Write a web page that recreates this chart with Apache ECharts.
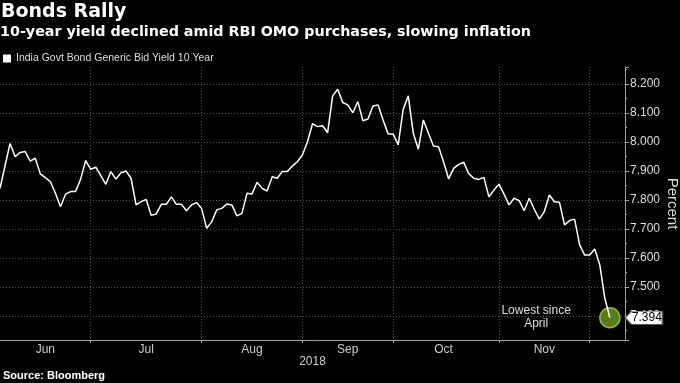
<!DOCTYPE html>
<html><head><meta charset="utf-8">
<script src="https://cdn.jsdelivr.net/npm/echarts@6/dist/echarts.min.js"></script>
<style>html,body{margin:0;padding:0;background:#000}#c{width:680px;height:383px}</style>
</head><body><div id="c"></div>
<script>
// ---- data ----
const titleText = 'Bonds Rally';
const subtitleText = '10-year yield declined amid RBI OMO purchases, slowing inflation';
const seriesName = 'India Govt Bond Generic Bid Yield 10 Year';
const sourceText = 'Source: Bloomberg';
const startDate = '2018-06-06';
const endDate = '2018-12-07';
const holidays = ['2018-08-15','2018-08-17','2018-08-22','2018-09-13','2018-09-20',
  '2018-10-02','2018-10-18','2018-11-07','2018-11-08','2018-11-20','2018-11-23'];
const yields = [
  7.840,7.918,7.995,7.949,7.964,7.967,7.934,7.944,7.890,7.877,
  7.863,7.823,7.777,7.820,7.829,7.829,7.872,7.936,7.906,7.913,
  7.884,7.854,7.898,7.872,7.894,7.900,7.875,7.783,7.794,7.802,
  7.747,7.752,7.785,7.785,7.811,7.785,7.785,7.763,7.783,7.791,
  7.771,7.702,7.725,7.766,7.771,7.786,7.783,7.745,7.754,7.823,
  7.821,7.861,7.840,7.831,7.880,7.875,7.898,7.898,7.917,7.932,
  7.955,8.001,8.063,8.053,8.056,8.032,8.159,8.182,8.136,8.128,
  8.101,8.139,8.073,8.079,8.124,8.128,8.076,8.028,8.027,7.990,
  8.113,8.159,8.030,7.975,8.076,8.030,7.986,7.984,7.932,7.873,
  7.909,7.923,7.930,7.891,7.875,7.871,7.878,7.811,7.834,7.855,
  7.820,7.783,7.806,7.798,7.763,7.806,7.768,7.734,7.760,7.817,
  7.794,7.792,7.714,7.729,7.734,7.645,7.610,7.610,7.631,7.576,
  7.461,7.394
];
const monthNames = ['Jun','Jul','Aug','Sep','Oct','Nov'];
const yearLabel = '2018';
const noteText = 'Lowest since\nApril';
const padCount = 3;

// ---- categories (trading days) ----
const dates = [];
for (let d = new Date(startDate + 'T00:00:00Z'); d <= new Date(endDate + 'T00:00:00Z'); d.setUTCDate(d.getUTCDate() + 1)) {
  const wd = d.getUTCDay(); const s = d.toISOString().slice(0, 10);
  if (wd !== 0 && wd !== 6 && holidays.indexOf(s) < 0) dates.push(s);
}
const categories = dates.slice();
for (let k = 0; k < padCount; k++) categories.push('pad' + k);

const starts = [0];
for (let i = 1; i < dates.length; i++) if (dates[i].slice(5, 7) !== dates[i - 1].slice(5, 7)) starts.push(i);
const boundarySet = new Set(starts.slice(1));
const labelMap = {};
monthNames.forEach((m, k) => { const a = starts[k], b = starts[k + 1]; labelMap[Math.floor((a + b) / 2)] = m; });

const lastIdx = yields.length - 1, lastVal = yields[lastIdx];
const sans = "'Liberation Sans', Arial, sans-serif";
const gridColor = '#505050';
const axisColor = '#a0a0a0';

const chart = echarts.init(document.getElementById('c'), null, {renderer: 'canvas'});
chart.setOption({
  backgroundColor: '#000',
  animation: false,
  title: [
    {text: titleText, left: 1, top: 3, padding: 0, textStyle: {color: '#fff', fontSize: 19, fontWeight: 'bold', fontFamily: "'DejaVu Sans', sans-serif"}},
    {text: subtitleText, left: 0, top: 25, padding: 0, textStyle: {color: '#fff', fontSize: 14.3, fontWeight: 'bold', fontFamily: "'DejaVu Sans', sans-serif"}},
    {text: sourceText, left: 3, top: 370, padding: 0, textStyle: {color: '#fff', fontSize: 11, fontWeight: 'bold', fontFamily: sans}}
  ],
  legend: {
    left: 3, top: 53, padding: 0, icon: 'rect', itemWidth: 8, itemHeight: 8,
    textStyle: {color: '#ddd', fontSize: 10.5, fontFamily: sans},
    data: [seriesName]
  },
  grid: {left: 0, right: 55, top: 67, bottom: 43, containLabel: false, outerBoundsMode: 'none'},
  xAxis: {
    type: 'category', data: categories, boundaryGap: false,
    name: yearLabel, nameLocation: 'middle', nameGap: 16, nameMoveOverlap: false,
    nameTextStyle: {color: '#ccc', fontSize: 12, fontFamily: sans},
    axisLine: {show: true, lineStyle: {color: axisColor, width: 1}},
    axisTick: {show: true, length: 3, interval: (i) => boundarySet.has(i), lineStyle: {color: axisColor}},
    axisLabel: {interval: (i) => labelMap[i] !== undefined, formatter: (v, i) => labelMap[i] || '', color: '#ccc', fontSize: 12, margin: 4, fontFamily: sans},
    splitLine: {show: true, interval: (i) => boundarySet.has(i), lineStyle: {color: gridColor, type: [1, 2], width: 1}}
  },
  yAxis: {
    type: 'value', position: 'right', min: 7.3172, max: 8.2586, splitNumber: 9,
    name: 'Percent', nameLocation: 'middle', nameRotate: -90, nameGap: 40, nameMoveOverlap: false,
    nameTextStyle: {color: '#ddd', fontSize: 15, fontFamily: sans},
    axisLine: {show: true, lineStyle: {color: axisColor, width: 1}},
    axisTick: {show: true, length: 4, lineStyle: {color: axisColor}},
    minorTick: {show: true, splitNumber: 2, length: 2, lineStyle: {color: axisColor}},
    axisLabel: {showMinLabel: false, showMaxLabel: false, formatter: (v) => v.toFixed(3), color: '#ddd', fontSize: 12, margin: 5, fontFamily: sans},
    splitLine: {show: true, showMinLine: false, showMaxLine: false, lineStyle: {color: gridColor, type: [1, 2], width: 1}}
  },
  series: [
    {
      name: seriesName, type: 'line', data: yields, symbol: 'none', z: 3,
      lineStyle: {color: '#fff', width: 1.5}, itemStyle: {color: '#fff'},
      markPoint: {
        silent: true, animation: false,
        symbol: 'path://M0,6.5L6,0L37,0L37,13L6,13Z', symbolSize: [37, 13], symbolOffset: [34, 0],
        itemStyle: {color: '#fff', borderColor: '#666', borderWidth: 1},
        label: {show: true, position: 'inside', offset: [3, 0], color: '#000', fontSize: 12, fontFamily: sans, formatter: (p) => p.value.toFixed(3)},
        data: [{coord: [lastIdx, lastVal], value: lastVal}]
      }
    },
    {
      type: 'scatter', data: [[lastIdx, lastVal]], symbolSize: 20, z: 2, silent: true,
      itemStyle: {color: '#587b1d', borderColor: '#93b542', borderWidth: 1.5, opacity: 1},
      label: {show: true, formatter: noteText, position: [-63, 10], align: 'center', verticalAlign: 'middle', color: '#ddd', fontSize: 12, lineHeight: 12.5, fontFamily: sans}
    }
  ]
});
</script>
</body></html>
